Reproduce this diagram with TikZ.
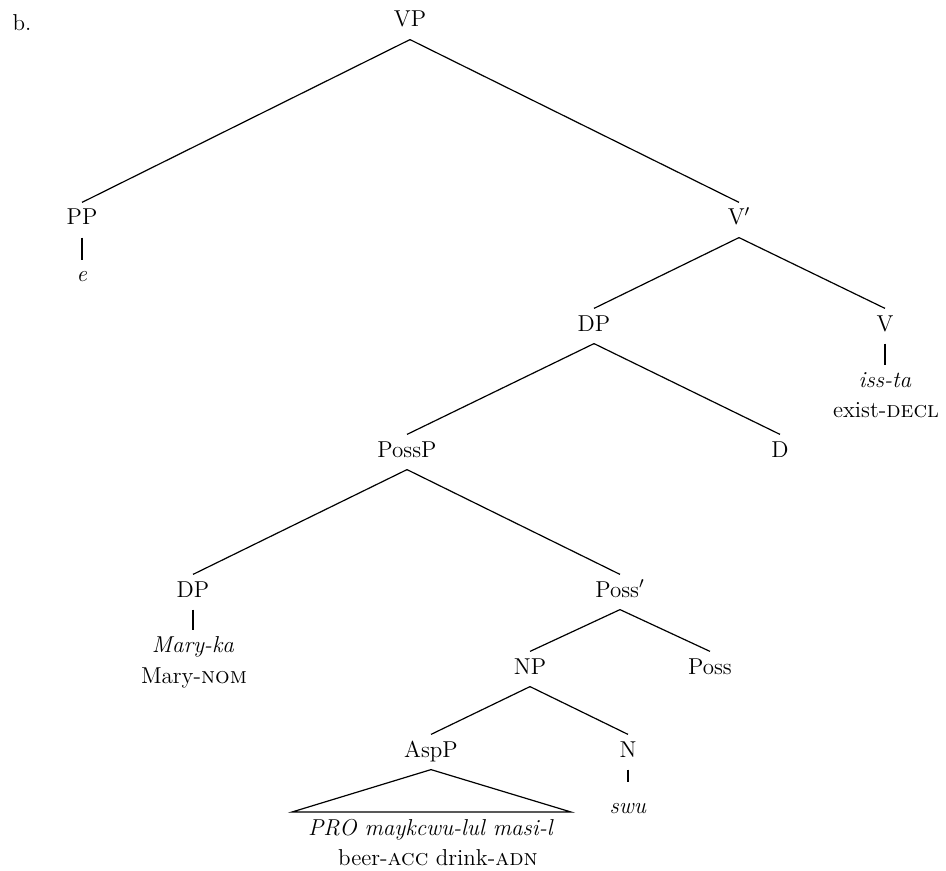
\documentclass[tikz,border=0pt]{standalone}
\usepackage{tikz}

\begin{document}
\begin{tikzpicture}[x=.5pt, y=-.5pt, line width=.6pt,
        font=\fontsize{11.5}{14}\selectfont,
        cat/.style={inner sep=0pt, text height=11pt, text depth=6pt, anchor=base},
        leaf/.style={inner sep=0pt, text height=10.5pt, text depth=0pt, anchor=base},
        gloss/.style={inner sep=0pt, anchor=base}]
        \useasboundingbox (0, 0) rectangle (946, 871);
        \node[gloss] (label) at (22, 31) {b.};

        \node[cat] (vp) at (410, 27) {VP};
        \node[cat] (pp) at (82, 225) {PP};
        \node[cat] (vbar) at (739, 225) {V$'$};
        \node[cat] (dp) at (594, 331) {DP};
        \node[cat] (v) at (885, 331) {V};
        \node[cat] (possp) at (407, 457) {PossP};
        \node[cat] (d) at (780, 457) {D};
        \node[cat] (dpmary) at (193, 597) {DP};
        \node[cat] (possbar) at (620, 597) {Poss$'$};
        \node[cat] (np) at (530, 674) {NP};
        \node[cat] (poss) at (710, 674) {Poss};
        \node[cat] (aspp) at (431, 757) {AspP};
        \node[cat] (n) at (628, 757) {N};

        \node[leaf] (e) at (82, 282) {\textit{e}};
        \node[leaf] (issta) at (885, 387) {\textit{iss-ta}};
        \node[gloss] (issgloss) at (886, 417) {exist-\textsc{decl}};
        \node[leaf] (maryka) at (193, 652) {\textit{Mary-ka}};
        \node[gloss] (marygloss) at (194, 683) {Mary-\textsc{nom}};
        \node[leaf, text height=15pt] (swu) at (628, 813) {\textit{swu}};
        \node[gloss] (pro) at (431, 835) {\textit{PRO maykcwu-lul masi-l}};
        \node[gloss] (progloss) at (438, 865) {beer-\textsc{acc} drink-\textsc{adn}};

        \coordinate (trileft) at (292, 812);
        \coordinate (triright) at (571, 812);

        \draw (vp.south) -- (pp.north);
        \draw (vp.south) -- (vbar.north);
        \draw (pp.south) -- (e.north);
        \draw (vbar.south) -- (dp.north);
        \draw (vbar.south) -- (v.north);
        \draw (v.south) -- (issta.north);
        \draw (dp.south) -- (possp.north);
        \draw (dp.south) -- (d.north);
        \draw (possp.south) -- (dpmary.north);
        \draw (possp.south) -- (possbar.north);
        \draw (dpmary.south) -- (maryka.north);
        \draw (possbar.south) -- (np.north);
        \draw (possbar.south) -- (poss.north);
        \draw (np.south) -- (aspp.north);
        \draw (np.south) -- (n.north);
        \draw (n.south) -- (swu.north);
        \draw (aspp.south) -- (trileft) -- (triright) -- cycle;
\end{tikzpicture}
\end{document}
